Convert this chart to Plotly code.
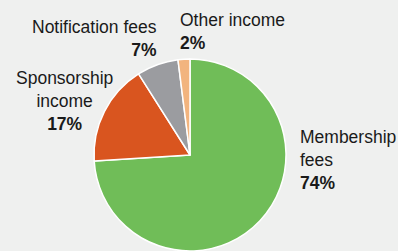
import plotly.graph_objects as go

labels = ["Membership fees", "Sponsorship income", "Notification fees", "Other income"]
label_lines = [["Membership", "fees"], ["Sponsorship", "income"], ["Notification fees"], ["Other income"]]
values = [74, 17, 7, 2]
colors = ["#70bd58", "#d9551f", "#9b9ca0", "#f2b47e"]

W, H = 398, 251
BG = "#eff0ef"

fig = go.Figure()
fig.add_trace(go.Pie(
    labels=labels,
    values=values,
    sort=False,
    direction="clockwise",
    rotation=0,
    marker=dict(colors=colors, line=dict(color="white", width=1.5)),
    textinfo="none",
    hoverinfo="label+percent",
    showlegend=False,
    domain=dict(x=[94 / W, 286 / W], y=[0, 192 / H]),
))

total = sum(values)
# label placement: (x px, y top px, xanchor, align)
placements = [
    (298, 125, "left", "left"),
    (64, 66, "center", "center"),
    (159, 15, "right", "right"),
    (178, 8, "left", "left"),
]
for lines, v, (px, py, xa, al) in zip(label_lines, values, placements):
    pct = round(100 * v / total)
    text = "<br>".join(lines) + f"<br><b>{pct}%</b>"
    fig.add_annotation(
        text=text, xref="paper", yref="paper",
        x=px / W, y=1 - py / H, xanchor=xa, yanchor="top", align=al,
        showarrow=False,
        font=dict(family="Liberation Sans, Arial, sans-serif", size=17.5, color="#1a1a1a"),
    )

fig.update_layout(
    width=W, height=H,
    margin=dict(l=0, r=0, t=0, b=0),
    paper_bgcolor=BG,
    plot_bgcolor=BG,
)
fig.write_html(
    "out.html",
    config={"displayModeBar": False},
    post_script="document.body.style.margin='0';document.body.style.overflow='hidden';",
)
